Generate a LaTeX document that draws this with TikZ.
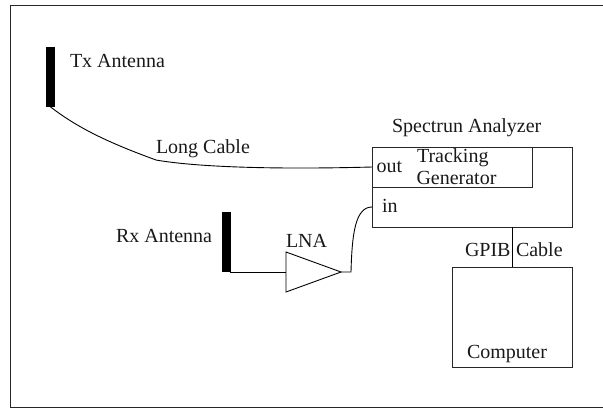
\documentclass[tikz,border=0pt]{standalone}
\usepackage{fontspec}
\setmainfont{Liberation Serif}
\tikzset{
  x=1pt,y=-1pt,
  wire/.style={draw=black,line width=0.9pt},
  boxstyle/.style={draw=black!85,line width=0.9pt,fill=none,inner sep=0pt,outer sep=0pt},
  antenna/.style={fill=black,draw=none,inner sep=0pt,outer sep=0pt},
  lbl/.style={inner sep=0pt,outer sep=0pt,font=\fontsize{20}{22}\selectfont,text=black!90},
}
\begin{document}
\begin{tikzpicture}
\useasboundingbox (0,0) rectangle (603,408);
\clip (0,0) rectangle (603,408);
\node[boxstyle,minimum width=600pt,minimum height=401.5pt,anchor=north west] (frame) at (10,5.8) {};
\node[antenna,minimum width=9pt,minimum height=60pt,anchor=north west] (tx) at (46,46.5) {};
\node[antenna,minimum width=8.5pt,minimum height=60pt,anchor=north west] (rx) at (222,212) {};
\node[boxstyle,minimum width=200pt,minimum height=80pt,anchor=north west] (sa) at (372,147) {};
\node[boxstyle,minimum width=160pt,minimum height=40pt,anchor=north west] (tg) at (372,147) {};
\node[boxstyle,minimum width=120pt,minimum height=100pt,anchor=north west] (pc) at (452,267) {};
\coordinate (bend) at (156,160);
\coordinate (outp) at (372,167);
\coordinate (inp) at (372,207);
\coordinate (ampa) at (286,252);
\coordinate (ampb) at (286,292);
\coordinate (ampc) at (341,272);
\coordinate (ampin) at (286,272);
\coordinate (rxfoot) at (230,272);
\coordinate (ampout) at (351,272);
\coordinate (txfoot) at (50,106.5);
\draw[wire] (ampa) -- (ampc) -- (ampb) -- cycle;
\draw[wire] (txfoot) .. controls (80,130) and (115,145) .. (bend) .. controls (190,166) and (260,170) .. (outp);
\draw[wire] (rxfoot) -- (ampin);
\draw[wire] (ampc) -- (ampout) .. controls (352,235) and (355,207) .. (inp);
\draw[wire] (sa.south -| 512,0) -- (pc.north -| 512,0);
\node[lbl,anchor=base west] (ltx) at (70,67) {Tx Antenna};
\node[lbl,anchor=base west] (lcable) at (156,153) {Long Cable};
\node[lbl,anchor=base west] (lrx) at (116,242) {Rx Antenna};
\node[lbl,anchor=base west] (llna) at (286,247.5) {LNA};
\node[lbl,anchor=base west] (lsa) at (392,132) {Spectrun Analyzer};
\node[lbl,anchor=base west] (lout) at (376.5,172.5) {out};
\node[lbl,anchor=base west] (ltr) at (417,162.5) {Tracking};
\node[lbl,anchor=base west] (lgen) at (416.5,184.5) {Generator};
\node[lbl,anchor=base west] (lin) at (382,212.5) {in};
\node[lbl,anchor=base west] (lgpib) at (465,256.5) {GPIB};
\node[lbl,anchor=base west] (lc2) at (516,256.5) {Cable};
\node[lbl,anchor=base west] (lpc) at (467,358) {Computer};
\end{tikzpicture}
\end{document}
